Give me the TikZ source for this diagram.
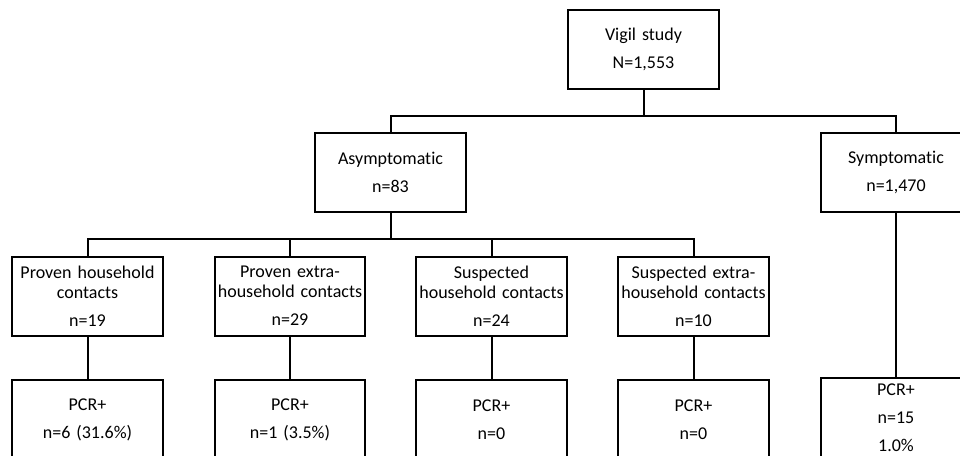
\documentclass[tikz,border=0pt]{standalone}
\usepackage{fontspec}
\setmainfont{Carlito}[RawFeature={-liga;-clig;-dlig}]
\usetikzlibrary{positioning}

\begin{document}
\begin{tikzpicture}[x=0.75pt, y=-0.75pt,
  box/.style={draw, line width=1.5pt, inner sep=0pt, text width=113pt, align=center,
    minimum height=59.25pt, font=\fontsize{13.5}{15}\selectfont},
  pcr/.style={box, minimum height=60pt},
  link/.style={line width=1.5pt}]
\clip (0,0) rectangle (960,456);
% top level
\node[box] (vigil) at (643.5,49.5) {Vigil study\\[6pt]N=1,553};
\node[box] (asym) at (390.5,172.5) {Asymptomatic\\[6pt]n=83};
\node[box] (sym) at (896,172.5) {Symptomatic\\[6pt]n=1,470};
% contact groups
\node[box] (phh) at (87.5,296) {Proven household\\contacts\\[6pt]n=19};
\node[box] (pex) at (290,296) {Proven extra-\\household contacts\\[6pt]n=29};
\node[box] (shh) at (491.5,296) {Suspected\\household contacts\\[6pt]n=24};
\node[box] (sex) at (693.5,296) {Suspected extra-\\household contacts\\[6pt]n=10};
% PCR results
\node[pcr] (pcrphh) at (87.5,420) {PCR+\\[6pt]n=6 (31.6\%)};
\node[pcr] (pcrpex) at (290,420) {PCR+\\[6pt]n=1 (3.5\%)};
\node[pcr] (pcrshh) at (491.5,420) {PCR+\\[6pt]n=0};
\node[pcr] (pcrsex) at (693.5,420) {PCR+\\[6pt]n=0};
\node[pcr] (pcrsym) at (896,418) {PCR+\\[6pt]n=15\\[6pt]1.0\%};
% connectors
\draw[link] (vigil.south) -- ++(0,26) -| (asym.north);
\draw[link] (vigil.south) -- ++(0,26) -| (sym.north);
\foreach \g in {phh, pex, shh, sex}
  \draw[link] (asym.south) -- ++(0,26) -| (\g.north);
\foreach \g in {phh, pex, shh, sex, sym}
  \draw[link] (\g) -- (pcr\g);
\end{tikzpicture}
\end{document}
